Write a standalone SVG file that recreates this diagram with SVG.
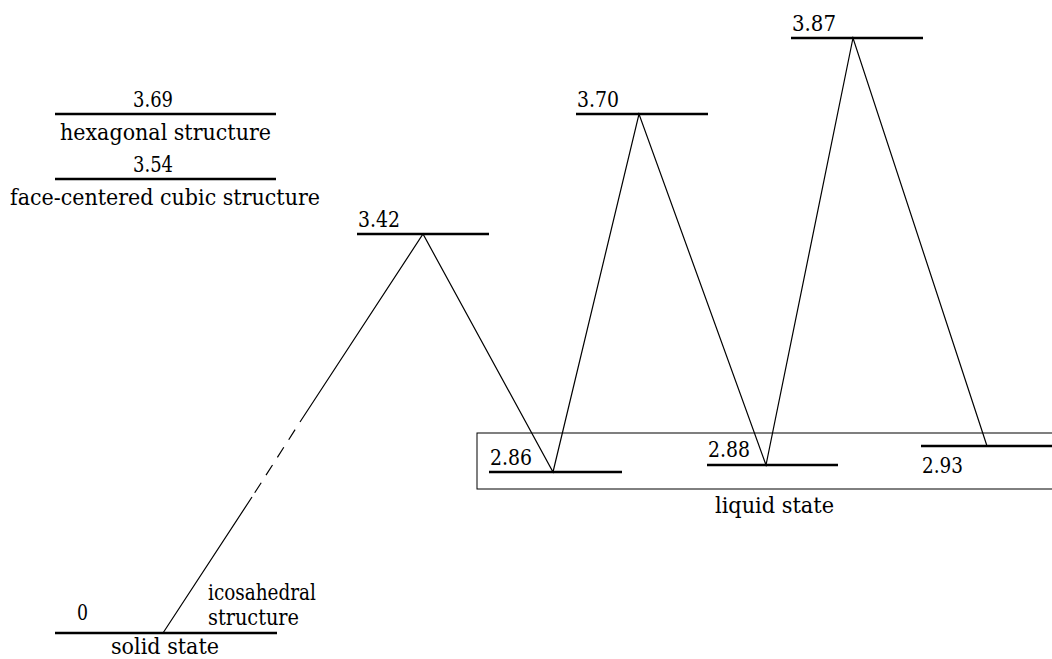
<svg xmlns="http://www.w3.org/2000/svg" width="1052" height="659" viewBox="0 0 1052 659">
<style>
.lvl{stroke:#000;stroke-width:2.6;fill:none}
.con{stroke:#000;stroke-width:1.2;fill:none}
.box{stroke:#000;stroke-width:1;fill:none}
</style>
<rect width="1052" height="659" fill="#fff"/>
<g font-family="DejaVu Serif, Liberation Serif, serif" font-size="22" fill="#000">
<g id="liquid-box"><rect class="box" x="477" y="433" width="590" height="56"/>
<text x="715" y="513" textLength="119" lengthAdjust="spacingAndGlyphs">liquid state</text></g>
<g id="connectors">
<path class="con" d="M163,633 L252,497 M300,422 L423,234 L553,472 L639,114 L766,465 L853,38 L987,446"/>
<path class="con" d="M295.1,429.6 L288.7,439.7 M283.8,447.3 L277.4,457.4 M272.5,465 L266,475.1 M261.2,482.7 L254.7,492.8"/>
</g>
<g id="level-hexagonal"><line class="lvl" x1="55" y1="114" x2="276" y2="114"/>
<text x="133" y="107" textLength="40" lengthAdjust="spacingAndGlyphs">3.69</text>
<text x="60" y="140" textLength="211" lengthAdjust="spacingAndGlyphs">hexagonal structure</text></g>
<g id="level-fcc"><line class="lvl" x1="55" y1="179" x2="276" y2="179"/>
<text x="133" y="172" textLength="40" lengthAdjust="spacingAndGlyphs">3.54</text>
<text x="10" y="205" textLength="310" lengthAdjust="spacingAndGlyphs">face-centered cubic structure</text></g>
<g id="level-342"><line class="lvl" x1="357" y1="234" x2="489" y2="234"/>
<text x="358" y="227" textLength="42" lengthAdjust="spacingAndGlyphs">3.42</text></g>
<g id="level-370"><line class="lvl" x1="576" y1="114" x2="708" y2="114"/>
<text x="577" y="107" textLength="42" lengthAdjust="spacingAndGlyphs">3.70</text></g>
<g id="level-387"><line class="lvl" x1="791" y1="38" x2="923" y2="38"/>
<text x="792" y="31" textLength="44" lengthAdjust="spacingAndGlyphs">3.87</text></g>
<g id="level-286"><line class="lvl" x1="489" y1="472" x2="622" y2="472"/>
<text x="490" y="465" textLength="42" lengthAdjust="spacingAndGlyphs">2.86</text></g>
<g id="level-288"><line class="lvl" x1="707" y1="465" x2="838" y2="465"/>
<text x="708" y="457" textLength="42" lengthAdjust="spacingAndGlyphs">2.88</text></g>
<g id="level-293"><line class="lvl" x1="921" y1="446" x2="1052" y2="446"/>
<text x="922" y="473" textLength="41" lengthAdjust="spacingAndGlyphs">2.93</text></g>
<g id="level-solid"><line class="lvl" x1="55" y1="633" x2="277" y2="633"/>
<text x="77" y="620" textLength="11" lengthAdjust="spacingAndGlyphs">0</text>
<text x="208" y="600" textLength="108" lengthAdjust="spacingAndGlyphs">icosahedral</text>
<text x="208" y="625" textLength="91" lengthAdjust="spacingAndGlyphs">structure</text>
<text x="111" y="654" textLength="108" lengthAdjust="spacingAndGlyphs">solid state</text></g>
</g>
</svg>
